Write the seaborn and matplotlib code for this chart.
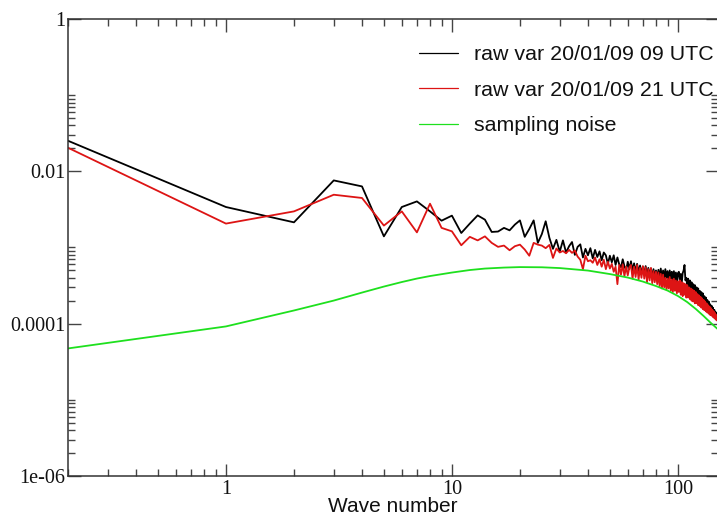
import numpy as np
import pandas as pd
import seaborn as sns
import matplotlib
matplotlib.use("Agg")
import matplotlib.pyplot as plt
from matplotlib.ticker import FixedLocator, FixedFormatter, LogLocator, NullFormatter

# ---------------------------------------------------------------- data
# Leading point of each spectrum sits at the left edge of the plot
k_first = 0.2
black_first = 2.52e-2
red_first = 2.04e-2

# Variance spectrum, 20/01/09 09 UTC, wave numbers 1..26
black_low = [3.40e-3, 2.14e-3, 7.60e-3, 6.34e-3, 1.40e-3, 3.40e-3, 4.03e-3,
             2.98e-3, 2.25e-3, 2.62e-3, 1.55e-3, 2.06e-3, 2.64e-3, 2.32e-3,
             1.60e-3, 1.62e-3, 1.81e-3, 1.68e-3, 2.00e-3, 2.27e-3, 1.38e-3,
             1.75e-3, 2.27e-3, 1.15e-3, 1.50e-3, 2.21e-3]
# wave numbers 27..150, in units of 1e-4
black_high = [13.4, 9.6, 12.6, 8.8,
              12.4, 8.6, 10.4, 11.8, 8.0, 10.2, 11.0, 7.4, 9.6, 7.9,
              9.8, 7.2, 9.3, 7.5, 8.9, 6.8, 8.6, 7.9, 6.1, 7.8,
              6.4, 7.9, 5.9, 7.4, 6.0, 5.5, 7.0, 5.7, 5.0, 6.5,
              5.2, 6.6, 5.0, 6.2, 4.8, 6.1, 4.7, 5.8, 4.5, 5.6,
              4.4, 5.7, 4.3, 5.4, 4.2, 5.3, 4.0, 5.2, 4.1, 5.0,
              3.9, 5.1, 4.0, 5.3, 3.8, 5.0, 3.9, 5.2, 4.0, 4.9,
              3.7, 5.0, 3.9, 4.8, 3.6, 4.9, 3.7, 4.7, 3.5, 4.6,
              4.8, 3.6, 4.5, 3.4, 4.6, 5.0, 5.9, 3.7, 4.0, 3.1,
              3.9, 2.9, 3.7, 2.8, 3.5, 2.6, 3.3, 2.5, 3.2, 2.4,
              3.0, 2.3, 2.9, 2.1, 2.7, 2.0, 2.6, 1.95, 2.5, 1.85,
              2.3, 1.75, 2.2, 1.65, 2.05, 1.58, 1.95, 1.5, 1.8, 1.42,
              1.72, 1.35, 1.62, 1.28, 1.52, 1.22, 1.42, 1.15, 1.3, 1.1]

# Variance spectrum, 20/01/09 21 UTC, wave numbers 1..25
red_low = [2.06e-3, 2.98e-3, 4.93e-3, 4.47e-3, 1.94e-3, 2.98e-3, 1.58e-3,
           3.76e-3, 1.81e-3, 1.63e-3, 1.07e-3, 1.38e-3, 1.24e-3, 1.40e-3,
           1.15e-3, 1.02e-3, 1.06e-3, 9.2e-4, 1.04e-3, 1.09e-3, 9.4e-4,
           7.8e-4, 1.15e-3, 1.09e-3, 1.06e-3]
# wave numbers 26..150, in units of 1e-4
red_high = [9.8, 10.8, 7.3, 9.7, 8.6,
            9.0, 8.4, 9.3, 8.5, 9.1, 7.6, 6.9, 5.2, 7.8, 6.6,
            6.8, 6.3, 7.4, 5.9, 7.0, 5.6, 6.9, 5.2, 6.5, 5.3,
            6.1, 4.8, 5.6, 3.3, 5.9, 4.4, 6.0, 4.2, 5.6, 4.3,
            5.5, 5.9, 3.9, 5.6, 4.1, 5.9, 3.8, 5.4, 4.0, 5.7,
            3.9, 5.5, 3.5, 5.2, 3.7, 5.4, 3.4, 4.9, 3.5, 4.8,
            3.3, 4.7, 3.1, 4.5, 2.9, 4.4, 3.0, 4.0, 2.8, 3.9,
            2.9, 4.1, 2.7, 3.8, 2.6, 3.9, 2.7, 3.7, 2.5, 3.6,
            2.6, 3.7, 2.4, 3.5, 2.3, 3.4, 2.4, 3.3, 2.2, 3.2,
            2.2, 3.0, 2.1, 2.9, 2.0, 2.8, 1.95, 2.7, 1.85, 2.6,
            1.85, 2.45, 1.75, 2.35, 1.7, 2.25, 1.62, 2.15, 1.55, 2.05,
            1.5, 1.95, 1.45, 1.85, 1.4, 1.75, 1.35, 1.68, 1.3, 1.6,
            1.27, 1.52, 1.22, 1.45, 1.18, 1.38, 1.13, 1.3, 1.1, 1.12]

# Sampling-noise spectrum
noise_k = [0.2, 1, 2, 3, 4, 5, 6, 7, 8, 10, 12, 14, 17, 20, 25, 30, 40, 50,
           60, 70, 80, 90, 100, 110, 120, 130, 140, 150]
noise_v = [4.73e-5, 9.2e-5, 1.49e-4, 2.01e-4, 2.56e-4, 3.07e-4, 3.52e-4,
           3.91e-4, 4.22e-4, 4.69e-4, 5.06e-4, 5.29e-4, 5.45e-4, 5.53e-4,
           5.50e-4, 5.37e-4, 4.98e-4, 4.48e-4, 4.03e-4, 3.57e-4, 3.12e-4,
           2.72e-4, 2.31e-4, 1.92e-4, 1.56e-4, 1.26e-4, 1.02e-4, 8.5e-5]

labels = ["raw var 20/01/09 09 UTC", "raw var 20/01/09 21 UTC", "sampling noise"]
colors = ["#000000", "#dd1414", "#1ee01e"]

y_major = [1, 1e-2, 1e-4, 1e-6]
y_major_labels = ["1", "0.01", "0.0001", "1e-06"]
x_major = [1, 10, 100]
x_major_labels = ["1", "10", "100"]

# ---------------------------------------------------------------- table
black_k = [k_first] + list(range(1, 151))
black_v = [black_first] + black_low + [v * 1e-4 for v in black_high]
red_k = [k_first] + list(range(1, 151))
red_v = [red_first] + red_low + [v * 1e-4 for v in red_high]

df = pd.concat([
    pd.DataFrame({"k": black_k, "v": black_v, "series": labels[0]}),
    pd.DataFrame({"k": red_k, "v": red_v, "series": labels[1]}),
    pd.DataFrame({"k": noise_k, "v": noise_v, "series": labels[2]}),
], ignore_index=True)

# ---------------------------------------------------------------- figure
sns.set_theme(style="ticks")
plt.rcParams["font.family"] = ["Liberation Sans", "DejaVu Sans"]

fig = plt.figure(figsize=(7.17, 5.18), dpi=100)
ax = fig.add_axes([68 / 717, 1 - 476 / 518, 650 / 717, (476 - 19) / 518])

sns.lineplot(data=df, x="k", y="v", hue="series", hue_order=labels,
             palette=dict(zip(labels, colors)), estimator=None, sort=False,
             linewidth=1.3, ax=ax, legend=False)

ax.set_xscale("log")
ax.set_yscale("log")
ax.set_xlim(0.2, 150.5)
ax.set_ylim(1e-6, 1)

# ticks
ax.xaxis.set_major_locator(FixedLocator(x_major))
ax.xaxis.set_major_formatter(FixedFormatter(x_major_labels))
ax.xaxis.set_minor_locator(LogLocator(base=10, subs=np.arange(2, 10)))
ax.xaxis.set_minor_formatter(NullFormatter())

y_minor = [j * 10.0 ** e for e in (-6, -4, -2) for j in range(2, 11)]
ax.yaxis.set_major_locator(FixedLocator(y_major))
ax.yaxis.set_major_formatter(FixedFormatter(y_major_labels))
ax.yaxis.set_minor_locator(FixedLocator(y_minor))
ax.yaxis.set_minor_formatter(NullFormatter())

ax.tick_params(which="both", direction="in", top=True, right=True,
               color="#444444", width=1.0)
ax.tick_params(which="major", length=9, labelsize=14.5)
ax.tick_params(axis="x", which="major", pad=3)
ax.tick_params(axis="y", which="major", pad=2)
ax.tick_params(which="minor", length=4.8)
for lab in ax.get_xticklabels() + ax.get_yticklabels():
    lab.set_fontfamily(["Liberation Serif", "DejaVu Serif"])
    lab.set_color("#111111")

for s in ax.spines.values():
    s.set_color("#333333")
    s.set_linewidth(1.1)

ax.set_xlabel("Wave number", fontsize=15, labelpad=-1.5, color="#111111")
ax.set_ylabel("")

# legend
handles = [plt.Line2D([], [], color=c, lw=0.9) for c in colors]
leg = ax.legend(handles, labels, loc="upper right", frameon=False,
                bbox_to_anchor=(714 / 717, 1 - 45 / 518),
                bbox_transform=fig.transFigure, borderpad=0, borderaxespad=0,
                fontsize=15.4, handlelength=1.8, handletextpad=0.78,
                labelspacing=0.78)
for t in leg.get_texts():
    t.set_color("#111111")

fig.savefig("out.png", dpi=100)
